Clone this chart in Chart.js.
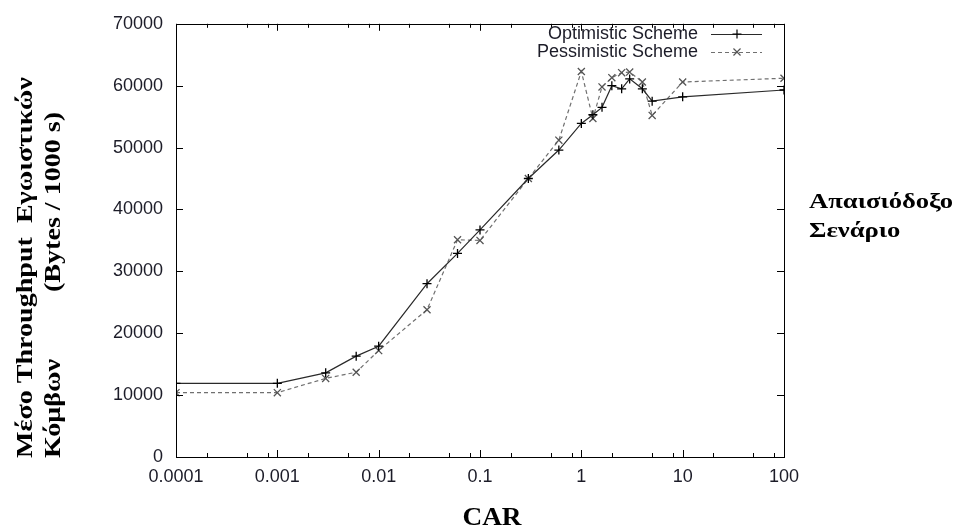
<!DOCTYPE html>
<html>
<head>
<meta charset="utf-8">
<script src="https://cdn.jsdelivr.net/npm/chart.js@4.4.1/dist/chart.umd.min.js"></script>
<style>
  html, body { margin: 0; padding: 0; background: #fff; }
  #wrap { width: 958px; height: 528px; }
</style>
</head>
<body>
<div id="wrap"><canvas id="chart" width="958" height="528"></canvas></div>
<script>
// CAR values on the x axis (log scale)
const carValues = [0.0001, 0.001, 0.003, 0.006, 0.01, 0.03, 0.06, 0.1, 0.3, 0.6, 1, 1.3, 1.6, 2, 2.5, 3, 4, 5, 10, 100];
const optimistic = [11900, 11900, 13600, 16300, 17900, 28000, 32900, 36700, 45000, 49600, 53900, 55300, 56500, 60000, 59500, 61100, 59500, 57500, 58200, 59300];
const pessimistic = [10400, 10400, 12700, 13700, 17200, 23800, 35100, 35000, 45000, 51200, 62300, 54700, 59800, 61300, 62100, 62200, 60600, 55200, 60600, 61200];

const xTickValues = [0.0001, 0.001, 0.01, 0.1, 1, 10, 100];
const xTickLabels = ['0.0001', '0.001', '0.01', '0.1', '1', '10', '100'];
const xMinorSteps = [2, 5, 8];
const yTickValues = [0, 10000, 20000, 30000, 40000, 50000, 60000, 70000];

const seriesNames = ['Optimistic Scheme', 'Pessimistic Scheme'];
const yTitleLine1 = 'Μέσο Throughput  Εγωιστικών';
const yTitleLine2 = ['Κόμβων', '(Bytes / 1000 s)'];
const xTitle = 'CAR';
const sideNote = ['Απαισιόδοξο', 'Σενάριο'];

const toPoints = (ys) => carValues.map((x, i) => ({ x: x, y: ys[i] }));

// the titles in the picture are a little wider than the font, so stretch them
function wideText(ctx, text, x, y, stretch) {
  ctx.save();
  ctx.translate(x, y);
  ctx.scale(stretch, 1);
  ctx.fillText(text, 0, 0);
  ctx.restore();
}

const frameAndText = {
  id: 'frameAndText',
  afterDatasetsDraw(chart) {
    const ctx = chart.ctx;
    const a = chart.chartArea;
    const xs = chart.scales.x, ys = chart.scales.y;
    ctx.save();
    ctx.strokeStyle = '#000';
    ctx.lineWidth = 1;
    ctx.strokeRect(Math.round(a.left) + 0.5, Math.round(a.top) + 0.5, Math.round(a.right - a.left), Math.round(a.bottom - a.top));

    ctx.beginPath();
    // x major + minor ticks, inward on bottom and top
    xTickValues.forEach((v, i) => {
      const px = Math.round(xs.getPixelForValue(v)) + 0.5;
      ctx.moveTo(px, a.bottom); ctx.lineTo(px, a.bottom - 7);
      ctx.moveTo(px, a.top); ctx.lineTo(px, a.top + 7);
      if (i < xTickValues.length - 1) {
        xMinorSteps.forEach(m => {
          const mx = Math.round(xs.getPixelForValue(v * m)) + 0.5;
          ctx.moveTo(mx, a.bottom); ctx.lineTo(mx, a.bottom - 4);
          ctx.moveTo(mx, a.top); ctx.lineTo(mx, a.top + 4);
        });
      }
    });
    yTickValues.forEach(v => {
      const py = Math.round(ys.getPixelForValue(v)) + 0.5;
      ctx.moveTo(a.left, py); ctx.lineTo(a.left + 7, py);
      ctx.moveTo(a.right, py); ctx.lineTo(a.right - 7, py);
    });
    ctx.stroke();

    // legend
    const ds = chart.data.datasets;
    const legendY = [34, 52];
    ctx.font = '18px "Liberation Sans", Arial, sans-serif';
    ctx.textAlign = 'right';
    ctx.textBaseline = 'middle';
    ds.forEach((d, i) => {
      const y = legendY[i];
      ctx.fillStyle = '#1c1c28';
      ctx.fillText(d.label, 698, y);
      ctx.strokeStyle = d.borderColor;
      ctx.lineWidth = d.borderWidth;
      ctx.setLineDash(d.borderDash || []);
      ctx.beginPath();
      ctx.moveTo(711, y + 0.5); ctx.lineTo(762, y + 0.5);
      ctx.stroke();
      ctx.setLineDash([]);
      ctx.strokeStyle = d.pointBorderColor;
      ctx.lineWidth = 1.2;
      const r = d.pointRadius;
      ctx.beginPath();
      if (d.pointStyle === 'cross') {
        ctx.moveTo(737 - r, y); ctx.lineTo(737 + r, y);
        ctx.moveTo(737, y - r); ctx.lineTo(737, y + r);
      } else {
        const k = r * 0.7071;
        ctx.moveTo(737 - k, y - k); ctx.lineTo(737 + k, y + k);
        ctx.moveTo(737 - k, y + k); ctx.lineTo(737 + k, y - k);
      }
      ctx.stroke();
    });

    // titles
    ctx.fillStyle = '#000';
    ctx.textAlign = 'left';
    ctx.textBaseline = 'alphabetic';
    ctx.font = 'bold 23px "Liberation Serif", "Times New Roman", serif';
    ctx.save();
    ctx.translate(32, 458);
    ctx.rotate(-Math.PI / 2);
    wideText(ctx, yTitleLine1, 0, 0, 1.22);
    wideText(ctx, yTitleLine2[0], 0, 28, 1.22);
    wideText(ctx, yTitleLine2[1], 166, 28, 1.22);
    ctx.restore();

    ctx.font = 'bold 22px "Liberation Serif", "Times New Roman", serif';
    wideText(ctx, sideNote[0], 809, 208, 1.21);
    wideText(ctx, sideNote[1], 809, 237, 1.21);

    ctx.font = 'bold 26px "Liberation Serif", "Times New Roman", serif';
    ctx.textAlign = 'center';
    wideText(ctx, xTitle, 492, 525, 1.05);
    ctx.restore();
  }
};

const ctx = document.getElementById('chart').getContext('2d');
new Chart(ctx, {
  type: 'line',
  data: {
    datasets: [
      {
        label: seriesNames[0],
        data: toPoints(optimistic),
        borderColor: '#2a2a2a',
        borderWidth: 1.2,
        pointStyle: 'cross',
        pointRadius: 4.5,
        pointBorderColor: '#000',
        pointBorderWidth: 1.3,
        pointHoverRadius: 4.5,
        fill: false,
        tension: 0,
      },
      {
        label: seriesNames[1],
        data: toPoints(pessimistic),
        borderColor: '#707070',
        borderWidth: 1.2,
        borderDash: [4, 3],
        pointStyle: 'crossRot',
        pointRadius: 5,
        pointBorderColor: '#555',
        pointBorderWidth: 1.3,
        pointHoverRadius: 5,
        fill: false,
        tension: 0,
      },
    ],
  },
  options: {
    responsive: false,
    animation: false,
    events: [],
    layout: { padding: { left: 0, right: 174, top: 18, bottom: 0 } },
    plugins: { legend: { display: false }, tooltip: { enabled: false } },
    scales: {
      x: {
        type: 'logarithmic',
        min: 0.0001,
        max: 100,
        afterBuildTicks: (scale) => { scale.ticks = xTickValues.map(v => ({ value: v })); },
        afterFit: (scale) => { scale.height = 71; },
        grid: { display: false, drawTicks: false },
        border: { display: false },
        ticks: {
          autoSkip: false,
          maxRotation: 0,
          padding: 9,
          color: '#1c1c28',
          font: { family: '"Liberation Sans", Arial, sans-serif', size: 18 },
          callback: (v) => { const i = xTickValues.indexOf(v); return i >= 0 ? xTickLabels[i] : ''; },
        },
      },
      y: {
        min: 0,
        max: 70000,
        afterBuildTicks: (scale) => { scale.ticks = yTickValues.map(v => ({ value: v })); },
        afterFit: (scale) => { scale.width = 176; },
        grid: { display: false, drawTicks: false },
        border: { display: false },
        ticks: {
          padding: 13,
          color: '#1c1c28',
          font: { family: '"Liberation Sans", Arial, sans-serif', size: 18 },
          callback: (v) => String(v),
        },
      },
    },
  },
  plugins: [frameAndText],
});
</script>
</body>
</html>
